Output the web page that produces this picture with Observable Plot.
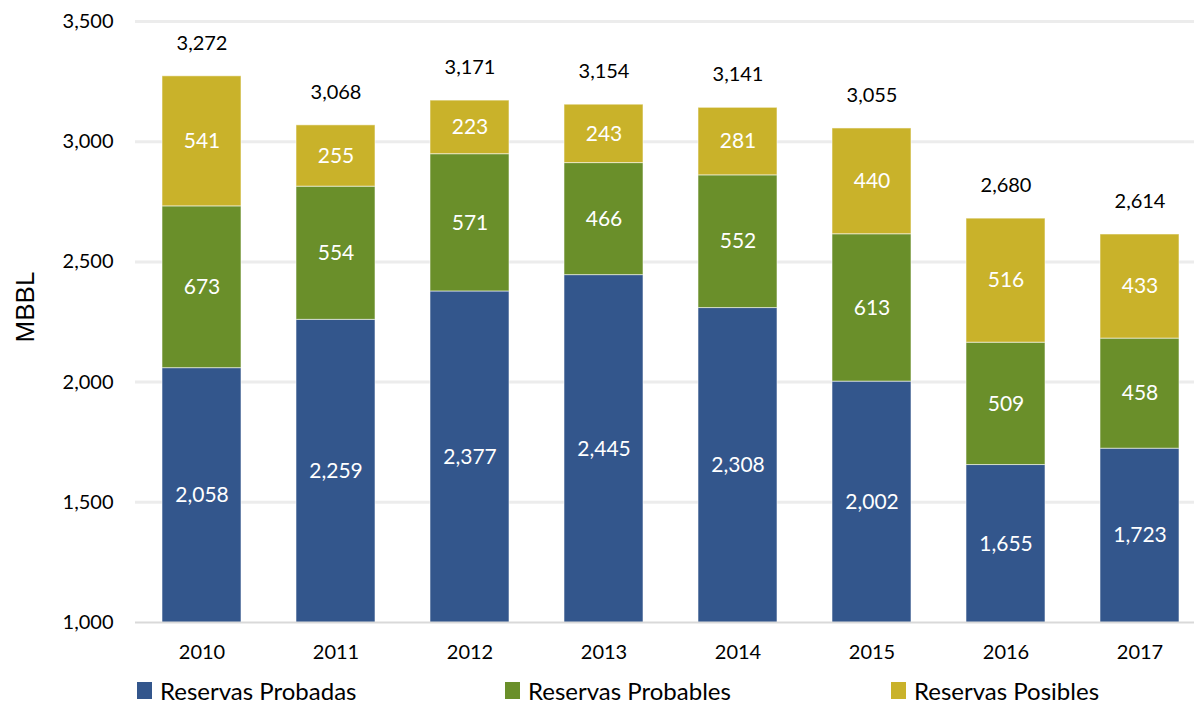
<!DOCTYPE html>
<html>
<head>
<meta charset="utf-8">
<script src="https://cdn.jsdelivr.net/npm/d3@7"></script>
<script src="https://cdn.jsdelivr.net/npm/@observablehq/plot@0.6"></script>
<style>
  body { margin: 0; background: #fff; font-family: Lato, "Open Sans", sans-serif; }
  #chart { position: relative; width: 1194px; height: 704px; }
  .legend { position: absolute; top: 676px; left: 0; width: 1194px; height: 28px; font-size: 24px; color: #000; }
  .legend .item { position: absolute; top: 0; display: flex; align-items: center; }
  .legend .sw { width: 15px; height: 17px; margin-right: 8px; }
</style>
</head>
<body>
<div id="chart"></div>
<script>
const years = ["2010","2011","2012","2013","2014","2015","2016","2017"];
const probadas = [2058, 2259, 2377, 2445, 2308, 2002, 1655, 1723];
const probables = [673, 554, 571, 466, 552, 613, 509, 458];
const posibles = [541, 255, 223, 243, 281, 440, 516, 433];
const totals = [3272, 3068, 3171, 3154, 3141, 3055, 2680, 2614];
const seriesNames = ["Reservas Probadas", "Reservas Probables", "Reservas Posibles"];
const colors = ["#33568C", "#6A8F2A", "#C9B22A"];
const yTicks = [1000, 1500, 2000, 2500, 3000, 3500];
const yMin = 1000, yMax = 3500;

const seriesValues = [probadas, probables, posibles];
const rows = [];
years.forEach((yr, i) => {
  let base = 0;
  seriesValues.forEach((vals, s) => {
    const v = vals[i];
    const y1 = base, y2 = base + v;
    rows.push({year: yr, series: seriesNames[s], value: v, y1, y2, mid: (Math.max(yMin, y1) + y2) / 2});
    base = y2;
  });
});
const totalRows = years.map((yr, i) => ({year: yr, total: totals[i]}));
const fmt = d3.format(",");

const plot = Plot.plot({
  width: 1194,
  height: 668,
  marginTop: 21,
  marginBottom: 46,
  marginLeft: 135,
  marginRight: 0,
  style: {fontFamily: "Lato, 'Open Sans', sans-serif", fontSize: "20px", color: "#000", background: "#fff"},
  x: {domain: years, range: [135, 1207], paddingInner: 0.41, paddingOuter: 0.205, label: null},
  y: {domain: [yMin, yMax], label: null},
  color: {domain: seriesNames, range: colors},
  marks: [
    Plot.ruleY(yTicks.filter(d => d > yMin), {stroke: "#ececec", strokeWidth: 3}),
    Plot.barY(rows, {x: "year", y1: "y1", y2: "y2", fill: "series", stroke: "#ffffff", strokeOpacity: 0.55, strokeWidth: 1, clip: true}),
    Plot.ruleY([yMin], {stroke: "#d9d9d9", strokeWidth: 2}),
    Plot.axisY({ticks: yTicks, tickFormat: fmt, tickSize: 0, tickPadding: 22, fontSize: 20, label: null}),
    Plot.axisX({tickSize: 0, tickPadding: 22, fontSize: 20, label: null}),
    Plot.text(rows, {x: "year", y: "mid", text: d => fmt(d.value), fill: "#ffffff", fontSize: 21}),
    Plot.text(totalRows, {x: "year", y: "total", text: d => fmt(d.total), dy: -33, fill: "#000", fontSize: 20})
  ]
});

const chart = document.getElementById("chart");
chart.appendChild(plot);

// y-axis title
const svg = d3.select(plot);
svg.append("text")
  .attr("transform", "translate(34,307) rotate(-90)")
  .attr("text-anchor", "middle")
  .attr("font-family", "'Liberation Sans', Arial, sans-serif")
  .attr("font-size", 26)
  .attr("fill", "#000")
  .text("MBBL");

// legend
const legend = document.createElement("div");
legend.className = "legend";
const legendX = [137, 505, 891];
seriesNames.forEach((name, i) => {
  const item = document.createElement("div");
  item.className = "item";
  item.style.left = legendX[i] + "px";
  item.innerHTML = `<span class="sw" style="background:${colors[i]}"></span><span>${name}</span>`;
  legend.appendChild(item);
});
chart.appendChild(legend);
</script>
</body>
</html>
